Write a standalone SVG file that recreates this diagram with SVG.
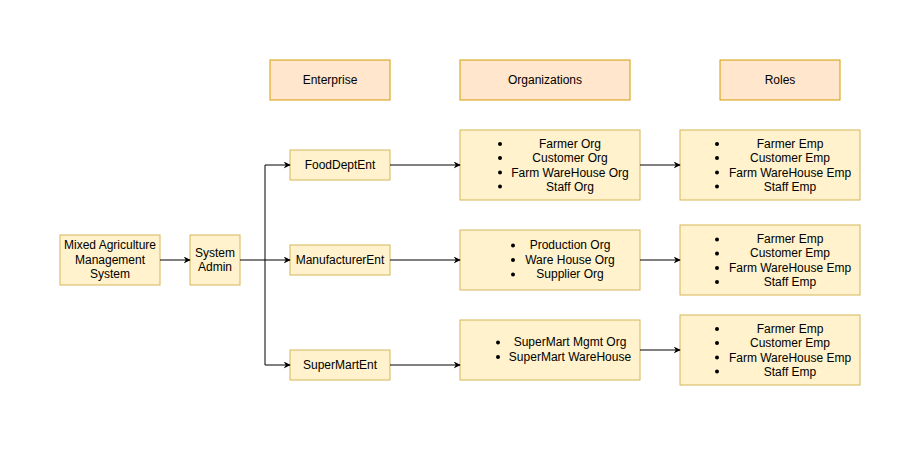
<svg xmlns="http://www.w3.org/2000/svg" width="921" height="452" viewBox="0 0 921 452">
<defs>
<marker id="arr" viewBox="0 0 10 10" refX="9" refY="5" markerWidth="7" markerHeight="7" orient="auto" markerUnits="userSpaceOnUse">
<path d="M0,0 L10,5 L0,10 L3,5 Z" fill="#000"/>
</marker>
<style>
.y{fill:#fff2cc;stroke:#d6b656;stroke-width:1}
.o{fill:#ffe6cc;stroke:#d79b00;stroke-width:1}
text{font-family:"Liberation Sans",Arial,sans-serif;font-size:12px;fill:#000;text-anchor:middle}
.c{stroke:#000;stroke-width:1;fill:none}
.b{fill:#000}
</style>
</defs>
<rect width="921" height="452" fill="#fff"/>
<g id="hdr-enterprise"><rect class="o" x="270" y="60" width="120" height="40"/><text x="330" y="84">Enterprise</text></g>
<g id="hdr-organizations"><rect class="o" x="460" y="60" width="170" height="40"/><text x="545" y="84">Organizations</text></g>
<g id="hdr-roles"><rect class="o" x="720" y="60" width="120" height="40"/><text x="780" y="84">Roles</text></g>

<g id="mams"><rect class="y" x="60" y="235" width="100" height="50"/>
<text x="110" y="249">Mixed Agriculture</text><text x="110" y="264">Management</text><text x="110" y="278">System</text></g>
<g id="sysadmin"><rect class="y" x="190" y="235" width="50" height="50"/>
<text x="215" y="257">System</text><text x="215" y="271">Admin</text></g>

<g id="fooddept"><rect class="y" x="290" y="150" width="100" height="30"/><text x="340" y="169">FoodDeptEnt</text></g>
<g id="manufacturer"><rect class="y" x="290" y="245" width="100" height="30"/><text x="340" y="264">ManufacturerEnt</text></g>
<g id="supermart"><rect class="y" x="290" y="350" width="100" height="30"/><text x="340" y="369">SuperMartEnt</text></g>

<g id="org1"><rect class="y" x="460" y="130" width="180" height="70"/>
<circle class="b" cx="500" cy="144" r="2"/><circle class="b" cx="500" cy="158" r="2"/><circle class="b" cx="500" cy="172.5" r="2"/><circle class="b" cx="500" cy="186.5" r="2"/>
<text x="570" y="148">Farmer Org</text><text x="570" y="162">Customer Org</text><text x="570" y="177">Farm WareHouse Org</text><text x="570" y="191">Staff Org</text></g>

<g id="org2"><rect class="y" x="460" y="230" width="180" height="60"/>
<circle class="b" cx="513" cy="245.5" r="2"/><circle class="b" cx="513" cy="260" r="2"/><circle class="b" cx="513" cy="274.5" r="2"/>
<text x="570" y="249">Production Org</text><text x="570" y="264">Ware House Org</text><text x="570" y="278">Supplier Org</text></g>

<g id="org3"><rect class="y" x="460" y="320" width="180" height="60"/>
<circle class="b" cx="498" cy="342.5" r="2"/><circle class="b" cx="498" cy="357" r="2"/>
<text x="570" y="346">SuperMart Mgmt Org</text><text x="570" y="361">SuperMart WareHouse</text></g>

<g id="roles1"><rect class="y" x="680" y="130" width="180" height="70"/>
<circle class="b" cx="717" cy="144" r="2"/><circle class="b" cx="717" cy="158" r="2"/><circle class="b" cx="717" cy="172.5" r="2"/><circle class="b" cx="717" cy="186.5" r="2"/>
<text x="790" y="148">Farmer Emp</text><text x="790" y="162">Customer Emp</text><text x="790" y="177">Farm WareHouse Emp</text><text x="790" y="191">Staff Emp</text></g>

<g id="roles2"><rect class="y" x="680" y="225" width="180" height="70"/>
<circle class="b" cx="717" cy="239.5" r="2"/><circle class="b" cx="717" cy="253.5" r="2"/><circle class="b" cx="717" cy="268" r="2"/><circle class="b" cx="717" cy="282" r="2"/>
<text x="790" y="243">Farmer Emp</text><text x="790" y="257">Customer Emp</text><text x="790" y="272">Farm WareHouse Emp</text><text x="790" y="286">Staff Emp</text></g>

<g id="roles3"><rect class="y" x="680" y="315" width="180" height="70"/>
<circle class="b" cx="717" cy="329" r="2"/><circle class="b" cx="717" cy="343" r="2"/><circle class="b" cx="717" cy="357.5" r="2"/><circle class="b" cx="717" cy="371.5" r="2"/>
<text x="790" y="333">Farmer Emp</text><text x="790" y="347">Customer Emp</text><text x="790" y="362">Farm WareHouse Emp</text><text x="790" y="376">Staff Emp</text></g>

<g id="connectors">
<path class="c" d="M160,260 L190,260" marker-end="url(#arr)"/>
<path class="c" d="M240,260 L290,260" marker-end="url(#arr)"/>
<path class="c" d="M265,260 L265,165 L290,165" marker-end="url(#arr)"/>
<path class="c" d="M265,260 L265,365 L290,365" marker-end="url(#arr)"/>
<path class="c" d="M390,165 L460,165" marker-end="url(#arr)"/>
<path class="c" d="M390,260 L460,260" marker-end="url(#arr)"/>
<path class="c" d="M390,365 L460,365" marker-end="url(#arr)"/>
<path class="c" d="M640,165 L680,165" marker-end="url(#arr)"/>
<path class="c" d="M640,260 L680,260" marker-end="url(#arr)"/>
<path class="c" d="M640,350 L680,350" marker-end="url(#arr)"/>
</g>
</svg>
